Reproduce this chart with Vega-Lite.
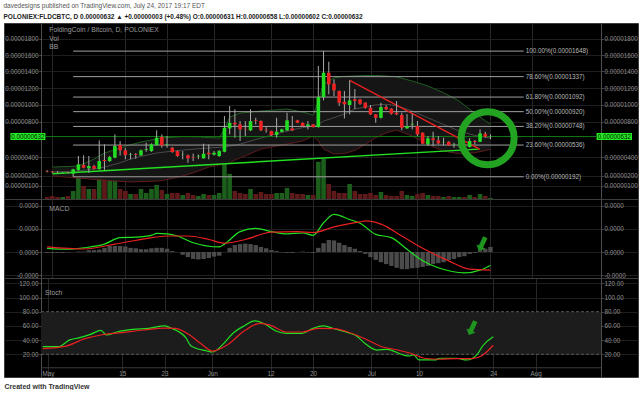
{
  "$schema": "https://vega.github.io/schema/vega-lite/v6.json",
  "background": "#ffffff",
  "padding": {"left": 3, "right": 3, "top": 3, "bottom": 0},
  "spacing": 0,
  "bounds": "flush",
  "title": {
    "text": "davedesigns published on TradingView.com, July 24, 2017 19:17 EDT",
    "subtitle": "POLONIEX:FLDCBTC, D 0.00000632 ▲ +0.00000003 (+0.48%) O:0.00000631 H:0.00000658 L:0.00000602 C:0.00000632",
    "anchor": "start", "frame": "bounds", "font": "Liberation Sans", "fontSize": 6.5, "fontWeight": "normal", "color": "#555555",
    "subtitleFont": "Liberation Sans", "subtitleFontSize": 6.5, "subtitleFontWeight": "bold", "subtitleColor": "#222222",
    "subtitlePadding": 4.5, "offset": 2
  },
  "datasets": {
    "ohlc": [
      {"t":"2017-04-30","o":250e-8,"h":262e-8,"l":238e-8,"c":245e-8,"v":2},
      {"t":"2017-05-01","o":246e-8,"h":252e-8,"l":232e-8,"c":238e-8,"v":3},
      {"t":"2017-05-02","o":238e-8,"h":250e-8,"l":228e-8,"c":236e-8,"v":2},
      {"t":"2017-05-03","o":234e-8,"h":240e-8,"l":226e-8,"c":236e-8,"v":2},
      {"t":"2017-05-04","o":236e-8,"h":242e-8,"l":226e-8,"c":233e-8,"v":3},
      {"t":"2017-05-05","o":224e-8,"h":275e-8,"l":192e-8,"c":270e-8,"v":8},
      {"t":"2017-05-06","o":262e-8,"h":414e-8,"l":255e-8,"c":323e-8,"v":22},
      {"t":"2017-05-07","o":316e-8,"h":422e-8,"l":280e-8,"c":287e-8,"v":13},
      {"t":"2017-05-08","o":281e-8,"h":414e-8,"l":234e-8,"c":305e-8,"v":10},
      {"t":"2017-05-09","o":305e-8,"h":318e-8,"l":268e-8,"c":276e-8,"v":10},
      {"t":"2017-05-10","o":272e-8,"h":589e-8,"l":265e-8,"c":359e-8,"v":30},
      {"t":"2017-05-11","o":370e-8,"h":544e-8,"l":260e-8,"c":359e-8,"v":30},
      {"t":"2017-05-12","o":359e-8,"h":415e-8,"l":350e-8,"c":403e-8,"v":18},
      {"t":"2017-05-13","o":396e-8,"h":657e-8,"l":390e-8,"c":525e-8,"v":23},
      {"t":"2017-05-14","o":536e-8,"h":581e-8,"l":420e-8,"c":477e-8,"v":10},
      {"t":"2017-05-15","o":477e-8,"h":506e-8,"l":378e-8,"c":425e-8,"v":8},
      {"t":"2017-05-16","o":428e-8,"h":450e-8,"l":378e-8,"c":433e-8,"v":5},
      {"t":"2017-05-17","o":436e-8,"h":445e-8,"l":385e-8,"c":428e-8,"v":5},
      {"t":"2017-05-18","o":422e-8,"h":485e-8,"l":415e-8,"c":477e-8,"v":10},
      {"t":"2017-05-19","o":482e-8,"h":562e-8,"l":461e-8,"c":490e-8,"v":6},
      {"t":"2017-05-20","o":469e-8,"h":555e-8,"l":460e-8,"c":544e-8,"v":10},
      {"t":"2017-05-21","o":536e-8,"h":703e-8,"l":530e-8,"c":619e-8,"v":14},
      {"t":"2017-05-22","o":627e-8,"h":657e-8,"l":506e-8,"c":533e-8,"v":9},
      {"t":"2017-05-23","o":540e-8,"h":638e-8,"l":506e-8,"c":546e-8,"v":5},
      {"t":"2017-05-24","o":506e-8,"h":515e-8,"l":450e-8,"c":458e-8,"v":6},
      {"t":"2017-05-25","o":469e-8,"h":475e-8,"l":405e-8,"c":414e-8,"v":6},
      {"t":"2017-05-26","o":433e-8,"h":469e-8,"l":378e-8,"c":436e-8,"v":4},
      {"t":"2017-05-27","o":422e-8,"h":430e-8,"l":341e-8,"c":389e-8,"v":6},
      {"t":"2017-05-28","o":400e-8,"h":441e-8,"l":359e-8,"c":393e-8,"v":4},
      {"t":"2017-05-29","o":410e-8,"h":430e-8,"l":380e-8,"c":416e-8,"v":3},
      {"t":"2017-05-30","o":389e-8,"h":551e-8,"l":385e-8,"c":439e-8,"v":5},
      {"t":"2017-05-31","o":450e-8,"h":544e-8,"l":378e-8,"c":433e-8,"v":4},
      {"t":"2017-06-01","o":430e-8,"h":470e-8,"l":420e-8,"c":450e-8,"v":4},
      {"t":"2017-06-02","o":414e-8,"h":480e-8,"l":405e-8,"c":469e-8,"v":6},
      {"t":"2017-06-03","o":461e-8,"h":868e-8,"l":455e-8,"c":732e-8,"v":41},
      {"t":"2017-06-04","o":725e-8,"h":986e-8,"l":657e-8,"c":790e-8,"v":25},
      {"t":"2017-06-05","o":790e-8,"h":947e-8,"l":619e-8,"c":771e-8,"v":8},
      {"t":"2017-06-06","o":771e-8,"h":810e-8,"l":581e-8,"c":714e-8,"v":6},
      {"t":"2017-06-07","o":720e-8,"h":810e-8,"l":638e-8,"c":714e-8,"v":5},
      {"t":"2017-06-08","o":703e-8,"h":947e-8,"l":695e-8,"c":810e-8,"v":10},
      {"t":"2017-06-09","o":818e-8,"h":848e-8,"l":771e-8,"c":810e-8,"v":5},
      {"t":"2017-06-10","o":810e-8,"h":818e-8,"l":695e-8,"c":703e-8,"v":7},
      {"t":"2017-06-11","o":710e-8,"h":740e-8,"l":676e-8,"c":703e-8,"v":5},
      {"t":"2017-06-12","o":695e-8,"h":700e-8,"l":640e-8,"c":649e-8,"v":5},
      {"t":"2017-06-13","o":649e-8,"h":848e-8,"l":619e-8,"c":687e-8,"v":6},
      {"t":"2017-06-14","o":687e-8,"h":722e-8,"l":680e-8,"c":714e-8,"v":6},
      {"t":"2017-06-15","o":703e-8,"h":907e-8,"l":695e-8,"c":818e-8,"v":11},
      {"t":"2017-06-16","o":726e-8,"h":868e-8,"l":695e-8,"c":703e-8,"v":6},
      {"t":"2017-06-17","o":818e-8,"h":825e-8,"l":785e-8,"c":790e-8,"v":5},
      {"t":"2017-06-18","o":790e-8,"h":795e-8,"l":745e-8,"c":752e-8,"v":5},
      {"t":"2017-06-19","o":752e-8,"h":810e-8,"l":714e-8,"c":771e-8,"v":4},
      {"t":"2017-06-20","o":771e-8,"h":775e-8,"l":735e-8,"c":740e-8,"v":4},
      {"t":"2017-06-21","o":740e-8,"h":1466e-8,"l":735e-8,"c":1092e-8,"v":37},
      {"t":"2017-06-22","o":1092e-8,"h":1648e-8,"l":1053e-8,"c":1385e-8,"v":40},
      {"t":"2017-06-23","o":1385e-8,"h":1518e-8,"l":1125e-8,"c":1244e-8,"v":15},
      {"t":"2017-06-24","o":1252e-8,"h":1305e-8,"l":1104e-8,"c":1172e-8,"v":8},
      {"t":"2017-06-25","o":1164e-8,"h":1170e-8,"l":986e-8,"c":1025e-8,"v":6},
      {"t":"2017-06-26","o":1037e-8,"h":1164e-8,"l":841e-8,"c":1006e-8,"v":6},
      {"t":"2017-06-27","o":998e-8,"h":1292e-8,"l":888e-8,"c":1053e-8,"v":15},
      {"t":"2017-06-28","o":1065e-8,"h":1188e-8,"l":951e-8,"c":1045e-8,"v":8},
      {"t":"2017-06-29","o":1065e-8,"h":1070e-8,"l":1000e-8,"c":1013e-8,"v":5},
      {"t":"2017-06-30","o":1025e-8,"h":1030e-8,"l":955e-8,"c":966e-8,"v":5},
      {"t":"2017-07-01","o":966e-8,"h":998e-8,"l":880e-8,"c":888e-8,"v":6},
      {"t":"2017-07-02","o":888e-8,"h":892e-8,"l":790e-8,"c":848e-8,"v":4},
      {"t":"2017-07-03","o":848e-8,"h":1025e-8,"l":840e-8,"c":974e-8,"v":7},
      {"t":"2017-07-04","o":974e-8,"h":998e-8,"l":940e-8,"c":947e-8,"v":4},
      {"t":"2017-07-05","o":955e-8,"h":960e-8,"l":885e-8,"c":895e-8,"v":3},
      {"t":"2017-07-06","o":907e-8,"h":1045e-8,"l":880e-8,"c":888e-8,"v":3},
      {"t":"2017-07-07","o":880e-8,"h":907e-8,"l":703e-8,"c":733e-8,"v":8},
      {"t":"2017-07-08","o":726e-8,"h":892e-8,"l":720e-8,"c":752e-8,"v":4},
      {"t":"2017-07-09","o":770e-8,"h":895e-8,"l":714e-8,"c":778e-8,"v":3},
      {"t":"2017-07-10","o":752e-8,"h":810e-8,"l":638e-8,"c":657e-8,"v":5},
      {"t":"2017-07-11","o":676e-8,"h":680e-8,"l":545e-8,"c":551e-8,"v":6},
      {"t":"2017-07-12","o":544e-8,"h":638e-8,"l":525e-8,"c":612e-8,"v":4},
      {"t":"2017-07-13","o":612e-8,"h":687e-8,"l":525e-8,"c":592e-8,"v":3},
      {"t":"2017-07-14","o":589e-8,"h":638e-8,"l":544e-8,"c":555e-8,"v":3},
      {"t":"2017-07-15","o":568e-8,"h":619e-8,"l":533e-8,"c":572e-8,"v":2},
      {"t":"2017-07-16","o":573e-8,"h":580e-8,"l":528e-8,"c":533e-8,"v":3},
      {"t":"2017-07-17","o":542e-8,"h":562e-8,"l":506e-8,"c":546e-8,"v":2},
      {"t":"2017-07-18","o":534e-8,"h":562e-8,"l":506e-8,"c":538e-8,"v":2},
      {"t":"2017-07-19","o":544e-8,"h":550e-8,"l":515e-8,"c":522e-8,"v":2},
      {"t":"2017-07-20","o":514e-8,"h":612e-8,"l":508e-8,"c":581e-8,"v":4},
      {"t":"2017-07-21","o":581e-8,"h":592e-8,"l":544e-8,"c":570e-8,"v":2},
      {"t":"2017-07-22","o":573e-8,"h":714e-8,"l":568e-8,"c":668e-8,"v":5},
      {"t":"2017-07-23","o":664e-8,"h":687e-8,"l":619e-8,"c":630e-8,"v":3},
      {"t":"2017-07-24","o":631e-8,"h":658e-8,"l":602e-8,"c":632e-8,"v":1}
    ],
    "bb": [
      {"t":"2017-05-01","lo":200e-8,"mid":242e-8,"up":294e-8},
      {"t":"2017-05-06","lo":179e-8,"mid":252e-8,"up":305e-8},
      {"t":"2017-05-09","lo":165e-8,"mid":275e-8,"up":381e-8},
      {"t":"2017-05-11","lo":158e-8,"mid":294e-8,"up":447e-8},
      {"t":"2017-05-14","lo":145e-8,"mid":340e-8,"up":503e-8},
      {"t":"2017-05-16","lo":138e-8,"mid":381e-8,"up":540e-8},
      {"t":"2017-05-18","lo":142e-8,"mid":410e-8,"up":570e-8},
      {"t":"2017-05-21","lo":148e-8,"mid":447e-8,"up":605e-8},
      {"t":"2017-05-22","lo":152e-8,"mid":455e-8,"up":615e-8},
      {"t":"2017-05-26","lo":200e-8,"mid":480e-8,"up":633e-8},
      {"t":"2017-05-29","lo":252e-8,"mid":495e-8,"up":630e-8},
      {"t":"2017-05-31","lo":294e-8,"mid":503e-8,"up":620e-8},
      {"t":"2017-06-02","lo":316e-8,"mid":510e-8,"up":615e-8},
      {"t":"2017-06-03","lo":327e-8,"mid":514e-8,"up":718e-8},
      {"t":"2017-06-04","lo":340e-8,"mid":525e-8,"up":856e-8},
      {"t":"2017-06-05","lo":370e-8,"mid":535e-8,"up":880e-8},
      {"t":"2017-06-06","lo":392e-8,"mid":547e-8,"up":903e-8},
      {"t":"2017-06-10","lo":491e-8,"mid":615e-8,"up":927e-8},
      {"t":"2017-06-15","lo":547e-8,"mid":695e-8,"up":951e-8},
      {"t":"2017-06-18","lo":581e-8,"mid":735e-8,"up":915e-8},
      {"t":"2017-06-20","lo":638e-8,"mid":752e-8,"up":880e-8},
      {"t":"2017-06-21","lo":581e-8,"mid":770e-8,"up":1045e-8},
      {"t":"2017-06-22","lo":491e-8,"mid":810e-8,"up":1248e-8},
      {"t":"2017-06-24","lo":436e-8,"mid":850e-8,"up":1321e-8},
      {"t":"2017-06-26","lo":441e-8,"mid":892e-8,"up":1340e-8},
      {"t":"2017-06-28","lo":477e-8,"mid":951e-8,"up":1345e-8},
      {"t":"2017-06-30","lo":544e-8,"mid":975e-8,"up":1350e-8},
      {"t":"2017-07-02","lo":619e-8,"mid":1000e-8,"up":1351e-8},
      {"t":"2017-07-04","lo":676e-8,"mid":1006e-8,"up":1345e-8},
      {"t":"2017-07-06","lo":706e-8,"mid":990e-8,"up":1335e-8},
      {"t":"2017-07-08","lo":660e-8,"mid":950e-8,"up":1300e-8},
      {"t":"2017-07-09","lo":638e-8,"mid":927e-8,"up":1284e-8},
      {"t":"2017-07-12","lo":544e-8,"mid":848e-8,"up":1224e-8},
      {"t":"2017-07-15","lo":469e-8,"mid":771e-8,"up":1144e-8},
      {"t":"2017-07-18","lo":439e-8,"mid":695e-8,"up":1045e-8},
      {"t":"2017-07-21","lo":450e-8,"mid":645e-8,"up":900e-8},
      {"t":"2017-07-24","lo":488e-8,"mid":615e-8,"up":772e-8}
    ],
    "fib": [
      {"lvl":"100.00%","p":1648e-8,"lab":"100.00%(0.00001648)"},
      {"lvl":"78.60%","p":1337e-8,"lab":"78.60%(0.00001337)"},
      {"lvl":"61.80%","p":1092e-8,"lab":"61.80%(0.00001092)"},
      {"lvl":"50.00%","p":920e-8,"lab":"50.00%(0.00000920)"},
      {"lvl":"38.20%","p":748e-8,"lab":"38.20%(0.00000748)"},
      {"lvl":"23.60%","p":536e-8,"lab":"23.60%(0.00000536)"},
      {"lvl":"0.00%","p":192e-8,"lab":"0.00%(0.00000192)"}
    ],
    "trend": [
      {"name":"support","t":"2017-05-01T00:00:00Z","p":224e-8},
      {"name":"support","t":"2017-07-21T17:00:00Z","p":491e-8},
      {"name":"resist","t":"2017-06-27T00:00:00Z","p":1292e-8},
      {"name":"resist","t":"2017-07-22T00:00:00Z","p":488e-8}
    ],
    "macd": [
      {"t":"2017-04-30","line":"MACD","v":8e-8},{"t":"2017-05-04","line":"MACD","v":6e-8},{"t":"2017-05-07","line":"MACD","v":9e-8},
      {"t":"2017-05-11","line":"MACD","v":17e-8},{"t":"2017-05-14","line":"MACD","v":31e-8},{"t":"2017-05-17","line":"MACD","v":32e-8},
      {"t":"2017-05-20","line":"MACD","v":36e-8},{"t":"2017-05-21","line":"MACD","v":40e-8},{"t":"2017-05-23","line":"MACD","v":39e-8},
      {"t":"2017-05-25","line":"MACD","v":34.5e-8},{"t":"2017-05-28","line":"MACD","v":20e-8},{"t":"2017-06-02","line":"MACD","v":11e-8},
      {"t":"2017-06-03","line":"MACD","v":17e-8},{"t":"2017-06-06","line":"MACD","v":44e-8},{"t":"2017-06-09","line":"MACD","v":51e-8},
      {"t":"2017-06-12","line":"MACD","v":44e-8},{"t":"2017-06-15","line":"MACD","v":39e-8},{"t":"2017-06-18","line":"MACD","v":41e-8},
      {"t":"2017-06-20","line":"MACD","v":36e-8},{"t":"2017-06-22","line":"MACD","v":63e-8},{"t":"2017-06-24","line":"MACD","v":81e-8},
      {"t":"2017-06-27","line":"MACD","v":70e-8},{"t":"2017-06-29","line":"MACD","v":62e-8},{"t":"2017-07-02","line":"MACD","v":38e-8},
      {"t":"2017-07-05","line":"MACD","v":31e-8},{"t":"2017-07-08","line":"MACD","v":6e-8},{"t":"2017-07-11","line":"MACD","v":-19e-8},
      {"t":"2017-07-14","line":"MACD","v":-34e-8},{"t":"2017-07-19","line":"MACD","v":-45e-8},{"t":"2017-07-22","line":"MACD","v":-39e-8},
      {"t":"2017-07-24","line":"MACD","v":-29e-8},
      {"t":"2017-04-30","line":"Signal","v":11e-8},{"t":"2017-05-07","line":"Signal","v":6.5e-8},{"t":"2017-05-13","line":"Signal","v":17e-8},
      {"t":"2017-05-19","line":"Signal","v":29e-8},{"t":"2017-05-23","line":"Signal","v":34.5e-8},{"t":"2017-05-27","line":"Signal","v":34.5e-8},
      {"t":"2017-05-31","line":"Signal","v":27e-8},{"t":"2017-06-03","line":"Signal","v":19e-8},{"t":"2017-06-07","line":"Signal","v":27e-8},
      {"t":"2017-06-12","line":"Signal","v":43e-8},{"t":"2017-06-17","line":"Signal","v":44e-8},{"t":"2017-06-20","line":"Signal","v":42e-8},
      {"t":"2017-06-24","line":"Signal","v":54e-8},{"t":"2017-06-29","line":"Signal","v":65e-8},{"t":"2017-06-30","line":"Signal","v":67e-8},
      {"t":"2017-07-03","line":"Signal","v":60e-8},{"t":"2017-07-07","line":"Signal","v":34.5e-8},{"t":"2017-07-11","line":"Signal","v":8e-8},
      {"t":"2017-07-16","line":"Signal","v":-19e-8},{"t":"2017-07-20","line":"Signal","v":-37e-8},{"t":"2017-07-24","line":"Signal","v":-39e-8}
    ],
    "hist": [
      {"t":"2017-04-30","h":-2e-8},{"t":"2017-05-01","h":-2e-8},{"t":"2017-05-02","h":-2e-8},{"t":"2017-05-03","h":-2e-8},
      {"t":"2017-05-04","h":-1e-8},{"t":"2017-05-05","h":0},{"t":"2017-05-06","h":1e-8},{"t":"2017-05-07","h":1e-8},
      {"t":"2017-05-08","h":4e-8},{"t":"2017-05-09","h":4e-8},{"t":"2017-05-10","h":5e-8},{"t":"2017-05-11","h":9e-8},
      {"t":"2017-05-12","h":13e-8},{"t":"2017-05-13","h":13e-8},{"t":"2017-05-14","h":13e-8},{"t":"2017-05-15","h":12e-8},
      {"t":"2017-05-16","h":9e-8},{"t":"2017-05-17","h":8e-8},{"t":"2017-05-18","h":6e-8},{"t":"2017-05-19","h":6e-8},
      {"t":"2017-05-20","h":8e-8},{"t":"2017-05-21","h":9e-8},{"t":"2017-05-22","h":9e-8},{"t":"2017-05-23","h":7e-8},
      {"t":"2017-05-24","h":2e-8},{"t":"2017-05-25","h":0},{"t":"2017-05-26","h":-6e-8},{"t":"2017-05-27","h":-11e-8},
      {"t":"2017-05-28","h":-15e-8},{"t":"2017-05-29","h":-16e-8},{"t":"2017-05-30","h":-15e-8},{"t":"2017-05-31","h":-13e-8},
      {"t":"2017-06-01","h":-10e-8},{"t":"2017-06-02","h":-8e-8},{"t":"2017-06-03","h":0},{"t":"2017-06-04","h":9e-8},
      {"t":"2017-06-05","h":15e-8},{"t":"2017-06-06","h":17e-8},{"t":"2017-06-07","h":18e-8},{"t":"2017-06-08","h":17e-8},
      {"t":"2017-06-09","h":15e-8},{"t":"2017-06-10","h":11e-8},{"t":"2017-06-11","h":8e-8},{"t":"2017-06-12","h":4e-8},
      {"t":"2017-06-13","h":2e-8},{"t":"2017-06-14","h":-1e-8},{"t":"2017-06-15","h":-2e-8},{"t":"2017-06-16","h":-2e-8},
      {"t":"2017-06-17","h":0},{"t":"2017-06-18","h":1e-8},{"t":"2017-06-19","h":-1e-8},{"t":"2017-06-20","h":-2e-8},
      {"t":"2017-06-21","h":9e-8},{"t":"2017-06-22","h":19e-8},{"t":"2017-06-23","h":26e-8},{"t":"2017-06-24","h":25e-8},
      {"t":"2017-06-25","h":20e-8},{"t":"2017-06-26","h":15e-8},{"t":"2017-06-27","h":11e-8},{"t":"2017-06-28","h":7e-8},
      {"t":"2017-06-29","h":2e-8},{"t":"2017-06-30","h":-4e-8},{"t":"2017-07-01","h":-11e-8},{"t":"2017-07-02","h":-17e-8},
      {"t":"2017-07-03","h":-22e-8},{"t":"2017-07-04","h":-26e-8},{"t":"2017-07-05","h":-30e-8},{"t":"2017-07-06","h":-34e-8},
      {"t":"2017-07-07","h":-37e-8},{"t":"2017-07-08","h":-37e-8},{"t":"2017-07-09","h":-35e-8},{"t":"2017-07-10","h":-34e-8},
      {"t":"2017-07-11","h":-32e-8},{"t":"2017-07-12","h":-30e-8},{"t":"2017-07-13","h":-26e-8},{"t":"2017-07-14","h":-24e-8},
      {"t":"2017-07-15","h":-22e-8},{"t":"2017-07-16","h":-17e-8},{"t":"2017-07-17","h":-15e-8},{"t":"2017-07-18","h":-11e-8},
      {"t":"2017-07-19","h":-9e-8},{"t":"2017-07-20","h":-4e-8},{"t":"2017-07-21","h":-2e-8},{"t":"2017-07-22","h":4e-8},
      {"t":"2017-07-23","h":7e-8},{"t":"2017-07-24","h":11e-8}
    ],
    "stoch": [
      {"t":"2017-04-30","line":"%K","v":30.7},{"t":"2017-05-03","line":"%K","v":30.7},{"t":"2017-05-05","line":"%K","v":40},
      {"t":"2017-05-07","line":"%K","v":43.4},{"t":"2017-05-09","line":"%K","v":48},{"t":"2017-05-11","line":"%K","v":53.8},
      {"t":"2017-05-12","line":"%K","v":47.2},{"t":"2017-05-14","line":"%K","v":51.4},{"t":"2017-05-17","line":"%K","v":55},
      {"t":"2017-05-20","line":"%K","v":56.6},{"t":"2017-05-23","line":"%K","v":60},{"t":"2017-05-24","line":"%K","v":57.5},
      {"t":"2017-05-27","line":"%K","v":43.4},{"t":"2017-05-28","line":"%K","v":31.7},{"t":"2017-05-31","line":"%K","v":24.6},
      {"t":"2017-06-01","line":"%K","v":23.2},{"t":"2017-06-03","line":"%K","v":34},{"t":"2017-06-05","line":"%K","v":50.4},
      {"t":"2017-06-07","line":"%K","v":60},{"t":"2017-06-09","line":"%K","v":67},{"t":"2017-06-11","line":"%K","v":62.3},
      {"t":"2017-06-13","line":"%K","v":52.8},{"t":"2017-06-15","line":"%K","v":49.6},{"t":"2017-06-18","line":"%K","v":49.6},
      {"t":"2017-06-20","line":"%K","v":56.6},{"t":"2017-06-22","line":"%K","v":60},{"t":"2017-06-24","line":"%K","v":56},
      {"t":"2017-06-27","line":"%K","v":49.6},{"t":"2017-06-28","line":"%K","v":46.8},{"t":"2017-06-30","line":"%K","v":34},
      {"t":"2017-07-02","line":"%K","v":26},{"t":"2017-07-04","line":"%K","v":27},{"t":"2017-07-07","line":"%K","v":19},
      {"t":"2017-07-08","line":"%K","v":17.6},{"t":"2017-07-09","line":"%K","v":19},{"t":"2017-07-10","line":"%K","v":12},
      {"t":"2017-07-13","line":"%K","v":12},{"t":"2017-07-14","line":"%K","v":14.4},{"t":"2017-07-17","line":"%K","v":14.4},
      {"t":"2017-07-19","line":"%K","v":12},{"t":"2017-07-21","line":"%K","v":20},{"t":"2017-07-22","line":"%K","v":31.7},
      {"t":"2017-07-24","line":"%K","v":44.8},
      {"t":"2017-04-30","line":"%D","v":27.9},{"t":"2017-05-04","line":"%D","v":30.7},{"t":"2017-05-08","line":"%D","v":42},
      {"t":"2017-05-11","line":"%D","v":47.2},{"t":"2017-05-15","line":"%D","v":50.4},{"t":"2017-05-19","line":"%D","v":54.2},
      {"t":"2017-05-23","line":"%D","v":57},{"t":"2017-05-25","line":"%D","v":56.6},{"t":"2017-05-28","line":"%D","v":45.8},
      {"t":"2017-05-30","line":"%D","v":34.1},{"t":"2017-06-01","line":"%D","v":24.6},{"t":"2017-06-04","line":"%D","v":34.1},
      {"t":"2017-06-07","line":"%D","v":52.8},{"t":"2017-06-10","line":"%D","v":63.7},{"t":"2017-06-12","line":"%D","v":60.8},
      {"t":"2017-06-15","line":"%D","v":51.4},{"t":"2017-06-18","line":"%D","v":51.4},{"t":"2017-06-21","line":"%D","v":56.6},
      {"t":"2017-06-24","line":"%D","v":56.1},{"t":"2017-06-27","line":"%D","v":50.4},{"t":"2017-06-30","line":"%D","v":41.1},
      {"t":"2017-07-03","line":"%D","v":30.7},{"t":"2017-07-06","line":"%D","v":26.1},{"t":"2017-07-09","line":"%D","v":20},
      {"t":"2017-07-11","line":"%D","v":14.4},{"t":"2017-07-14","line":"%D","v":13},{"t":"2017-07-17","line":"%D","v":13.8},
      {"t":"2017-07-20","line":"%D","v":13.8},{"t":"2017-07-22","line":"%D","v":18.6},{"t":"2017-07-24","line":"%D","v":32.7}
    ]
  },
  "vconcat": [
    {
      "width": 634, "height": 176,
      "layer": [
        {
          "data": {"name": "ohlc"},
          "mark": {"type": "bar", "size": 4.6},
          "encoding": {
            "x": {"field": "t", "type": "temporal", "title": null, "scale": {"domain": [{"year":2017,"month":4,"date":22,"hours":16,"minutes":48,"utc":true},{"year":2017,"month":8,"date":20,"hours":7,"minutes":41,"utc":true}], "nice": false},
              "axis": {"values": [{"year":2017,"month":5,"date":1,"utc":true},{"year":2017,"month":5,"date":15,"utc":true},{"year":2017,"month":5,"date":23,"utc":true},{"year":2017,"month":6,"date":1,"utc":true},{"year":2017,"month":6,"date":12,"utc":true},{"year":2017,"month":6,"date":20,"utc":true},{"year":2017,"month":7,"date":1,"utc":true},{"year":2017,"month":7,"date":10,"utc":true},{"year":2017,"month":7,"date":24,"utc":true},{"year":2017,"month":8,"date":1,"utc":true}], "grid": true, "gridColor": "#282828", "labels": false, "ticks": false, "domain": false, "title": null}},
            "y": {"field": "v", "type": "quantitative", "scale": {"domain": [0, 175], "nice": false}, "axis": null},
            "color": {"condition": {"test": "datum.c >= datum.o", "value": "#1c5e1c"}, "value": "#5e1a1a"}
          }
        },
        {
          "data": {"values": [{"p": 632e-8}]},
          "mark": {"type": "rect", "color": "#22ee22"},
          "encoding": {
            "x": {"datum": {"year":2017,"month":4,"date":22,"hours":23,"minutes":30,"utc":true}, "type": "temporal", "title": null},
            "x2": {"datum": {"year":2017,"month":4,"date":29,"hours":16,"minutes":19,"utc":true}},
            "y": {"datum": 673e-8, "type": "quantitative", "scale": {"type": "pow", "exponent": 0.92, "domain": [-16e-8, 1996e-8], "nice": false, "zero": false},
              "axis": {"orient": "left", "offset": -37, "values": [100e-8, 200e-8, 400e-8, 800e-8, 1000e-8, 1200e-8, 1400e-8, 1600e-8, 1800e-8], "format": ".8f", "grid": true, "labelOverlap": false, "title": null}},
            "y2": {"datum": 593e-8}
          }
        },
        {
          "data": {"values": [{"p": 632e-8}]},
          "mark": {"type": "rect", "color": "#22ee22"},
          "encoding": {
            "x": {"datum": {"year":2017,"month":8,"date":13,"hours":8,"minutes":10,"utc":true}, "type": "temporal", "title": null},
            "x2": {"datum": {"year":2017,"month":8,"date":20,"hours":3,"minutes":7,"utc":true}},
            "y": {"datum": 673e-8, "type": "quantitative", "scale": {"type": "pow", "exponent": 0.92, "domain": [-16e-8, 1996e-8], "nice": false, "zero": false},
              "axis": {"orient": "right", "offset": -37, "values": [100e-8, 200e-8, 400e-8, 800e-8, 1000e-8, 1200e-8, 1400e-8, 1600e-8, 1800e-8], "format": ".8f", "grid": false, "labelOverlap": false, "title": null}},
            "y2": {"datum": 593e-8}
          }
        },
        {
          "layer": [
            {
              "data": {"name": "bb"},
              "mark": {"type": "area", "color": "#151515"},
              "encoding": {
                "x": {"field": "t", "type": "temporal", "title": null},
                "y": {"field": "lo", "type": "quantitative", "scale": {"type": "pow", "exponent": 0.92, "domain": [-16e-8, 1996e-8], "nice": false, "zero": false}, "axis": null},
                "y2": {"field": "up"}
              }
            },
            {"data": {"name": "bb"}, "mark": {"type": "line", "color": "#1f5c1f", "strokeWidth": 1}, "encoding": {"x": {"field": "t", "type": "temporal", "title": null}, "y": {"field": "up", "type": "quantitative", "axis": null}}},
            {"data": {"name": "bb"}, "mark": {"type": "line", "color": "#4a4a4a", "strokeWidth": 1}, "encoding": {"x": {"field": "t", "type": "temporal", "title": null}, "y": {"field": "mid", "type": "quantitative", "axis": null}}},
            {"data": {"name": "bb"}, "mark": {"type": "line", "color": "#5e1c1c", "strokeWidth": 1}, "encoding": {"x": {"field": "t", "type": "temporal", "title": null}, "y": {"field": "lo", "type": "quantitative", "axis": null}}},
            {
              "data": {"name": "fib"},
              "mark": {"type": "rule", "color": "#a0a0a0", "strokeWidth": 1},
              "encoding": {
                "x": {"datum": {"year":2017,"month":5,"date":5,"utc":true}, "type": "temporal", "title": null},
                "x2": {"datum": {"year":2017,"month":7,"date":30,"hours":9,"utc":true}},
                "y": {"field": "p", "type": "quantitative", "axis": null}
              }
            },
            {
              "data": {"name": "fib"},
              "mark": {"type": "text", "align": "left", "baseline": "middle", "fontSize": 6.3, "color": "#b8b8b8"},
              "encoding": {
                "x": {"datum": {"year":2017,"month":7,"date":30,"hours":18,"utc":true}, "type": "temporal", "title": null},
                "y": {"field": "p", "type": "quantitative", "axis": null},
                "text": {"field": "lab"}
              }
            },
            {
              "data": {"values": [{"p": 632e-8}]},
              "mark": {"type": "rule", "color": "#157a15", "strokeWidth": 1},
              "encoding": {
                "x": {"datum": {"year":2017,"month":4,"date":29,"hours":16,"minutes":19,"utc":true}, "type": "temporal", "title": null},
                "x2": {"datum": {"year":2017,"month":8,"date":13,"hours":8,"minutes":10,"utc":true}},
                "y": {"field": "p", "type": "quantitative", "axis": null}
              }
            },
            {
              "data": {"name": "trend"},
              "mark": {"type": "line", "strokeWidth": 1.4},
              "encoding": {
                "x": {"field": "t", "type": "temporal", "title": null},
                "y": {"field": "p", "type": "quantitative", "axis": null},
                "color": {"field": "name", "type": "nominal", "scale": {"domain": ["support", "resist"], "range": ["#22e022", "#e82020"]}, "legend": null}
              }
            },
            {
              "data": {"name": "ohlc"},
              "mark": {"type": "rule", "color": "#a9a9a9", "strokeWidth": 1},
              "encoding": {"x": {"field": "t", "type": "temporal", "title": null}, "y": {"field": "l", "type": "quantitative", "axis": null}, "y2": {"field": "h"}}
            },
            {
              "data": {"name": "ohlc"},
              "mark": {"type": "bar", "size": 3.6},
              "encoding": {
                "x": {"field": "t", "type": "temporal", "title": null},
                "y": {"field": "o", "type": "quantitative", "axis": null}, "y2": {"field": "c"},
                "color": {"condition": {"test": "datum.c >= datum.o", "value": "#22dd22"}, "value": "#ee2222"}
              }
            },
            {
              "data": {"values": [{"t": "2017-07-23T11:00:00Z", "p": 612e-8}]},
              "mark": {"type": "point", "shape": "circle", "size": 2809, "filled": false, "stroke": "#22a322", "strokeWidth": 7, "opacity": 1},
              "encoding": {"x": {"field": "t", "type": "temporal", "title": null}, "y": {"field": "p", "type": "quantitative", "axis": null}}
            },
            {
              "data": {"values": [{"p": 632e-8}]},
              "mark": {"type": "text", "fontSize": 6.3, "color": "#0a0a0a", "align": "center", "baseline": "middle"},
              "encoding": {
                "x": {"datum": {"year":2017,"month":4,"date":26,"hours":8,"minutes":10,"utc":true}, "type": "temporal", "title": null},
                "y": {"field": "p", "type": "quantitative", "axis": null},
                "text": {"field": "p", "format": ".8f"}
              }
            },
            {
              "data": {"values": [{"p": 632e-8}]},
              "mark": {"type": "text", "fontSize": 6.3, "color": "#0a0a0a", "align": "center", "baseline": "middle"},
              "encoding": {
                "x": {"datum": {"year":2017,"month":8,"date":16,"hours":17,"minutes":46,"utc":true}, "type": "temporal", "title": null},
                "y": {"field": "p", "type": "quantitative", "axis": null},
                "text": {"field": "p", "format": ".8f"}
              }
            },
            {
              "data": {"values": [{}]},
              "mark": {"type": "text", "align": "left", "baseline": "top", "fontSize": 6.8, "lineHeight": 8.5, "color": "#9c9c9c"},
              "encoding": {
                "x": {"datum": {"year":2017,"month":4,"date":30,"hours":10,"minutes":20,"utc":true}, "type": "temporal", "title": null},
                "y": {"datum": 1940e-8, "type": "quantitative", "axis": null},
                "text": {"value": ["FoldingCoin / Bitcoin, D, POLONIEX", "Vol", "BB"]}
              }
            }
          ]
        }
      ],
      "resolve": {"scale": {"y": "independent"}}
    },
    {
      "width": 634, "height": 79,
      "layer": [
        {
          "data": {"name": "hist"},
          "mark": {"type": "bar", "size": 4.4, "color": "#4b4b4b"},
          "encoding": {
            "x": {"field": "t", "type": "temporal", "title": null, "scale": {"domain": [{"year":2017,"month":4,"date":22,"hours":16,"minutes":48,"utc":true},{"year":2017,"month":8,"date":20,"hours":7,"minutes":41,"utc":true}], "nice": false},
              "axis": {"values": [{"year":2017,"month":5,"date":1,"utc":true},{"year":2017,"month":5,"date":15,"utc":true},{"year":2017,"month":5,"date":23,"utc":true},{"year":2017,"month":6,"date":1,"utc":true},{"year":2017,"month":6,"date":12,"utc":true},{"year":2017,"month":6,"date":20,"utc":true},{"year":2017,"month":7,"date":1,"utc":true},{"year":2017,"month":7,"date":10,"utc":true},{"year":2017,"month":7,"date":24,"utc":true},{"year":2017,"month":8,"date":1,"utc":true}], "grid": true, "gridColor": "#282828", "labels": false, "ticks": false, "domain": false, "title": null}},
            "y": {"field": "h", "type": "quantitative", "scale": {"domain": [-56e-8, 114.2e-8], "nice": false, "zero": false},
              "axis": {"orient": "left", "offset": -37, "values": [-50e-8, 0, 50e-8, 100e-8], "labelExpr": "datum.value < 0 ? '-0.0000' : '0.0000'", "grid": true, "labelOverlap": false, "title": null}}
          }
        },
        {
          "data": {"name": "macd"},
          "mark": {"type": "line", "strokeWidth": 1.2, "interpolate": "monotone"},
          "encoding": {
            "x": {"field": "t", "type": "temporal", "title": null},
            "y": {"field": "v", "type": "quantitative", "scale": {"domain": [-56e-8, 114.2e-8], "nice": false, "zero": false},
              "axis": {"orient": "right", "offset": -37, "values": [-50e-8, 0, 50e-8, 100e-8], "labelExpr": "datum.value < 0 ? '-0.0000' : '0.0000'", "grid": false, "labelOverlap": false, "title": null}},
            "color": {"field": "line", "type": "nominal", "scale": {"domain": ["MACD", "Signal"], "range": ["#1ed41e", "#e21c1c"]}, "legend": null}
          }
        },
        {
          "layer": [
            {
              "data": {"values": [{}]},
              "mark": {"type": "text", "align": "left", "baseline": "middle", "fontSize": 6.8, "color": "#9c9c9c", "text": "MACD"},
              "encoding": {
                "x": {"datum": {"year":2017,"month":4,"date":30,"hours":10,"minutes":20,"utc":true}, "type": "temporal", "title": null},
                "y": {"datum": 93e-8, "type": "quantitative", "scale": {"domain": [-56e-8, 114.2e-8], "nice": false, "zero": false}, "axis": null}
              }
            },
            {
              "data": {"values": [{}]},
              "mark": {"type": "text", "align": "center", "baseline": "middle", "fontSize": 20, "font": "DejaVu Sans", "color": "#1f951f", "text": "⬇", "angle": 25},
              "encoding": {
                "x": {"datum": {"year":2017,"month":7,"date":22,"hours":7,"utc":true}, "type": "temporal", "title": null},
                "y": {"datum": 15e-8, "type": "quantitative", "axis": null}
              }
            }
          ]
        }
      ],
      "resolve": {"scale": {"y": "independent"}}
    },
    {
      "width": 634, "height": 99,
      "layer": [
        {
          "data": {"values": [{}]},
          "mark": {"type": "rect", "color": "#1c1c1c"},
          "encoding": {
            "x": {"datum": {"year":2017,"month":4,"date":29,"hours":16,"minutes":19,"utc":true}, "type": "temporal", "title": null},
            "x2": {"datum": {"year":2017,"month":8,"date":13,"hours":8,"minutes":10,"utc":true}},
            "y": {"datum": 80, "type": "quantitative", "scale": {"domain": [-12, 127.5], "nice": false, "zero": false},
              "axis": {"orient": "left", "offset": -37, "values": [20, 40, 60, 80, 100, 120], "format": ".2f", "grid": true, "labelOverlap": false, "title": null}},
            "y2": {"datum": 20}
          }
        },
        {
          "data": {"values": [{"lv": 20}, {"lv": 80}]},
          "mark": {"type": "rule", "color": "#5a5a5a", "strokeDash": [3, 2], "strokeWidth": 1},
          "encoding": {
            "x": {"datum": {"year":2017,"month":4,"date":29,"hours":16,"minutes":19,"utc":true}, "type": "temporal", "title": null},
            "x2": {"datum": {"year":2017,"month":8,"date":13,"hours":8,"minutes":10,"utc":true}},
            "y": {"field": "lv", "type": "quantitative", "scale": {"domain": [-12, 127.5], "nice": false, "zero": false},
              "axis": {"orient": "right", "offset": -37, "values": [20, 40, 60, 80, 100, 120], "format": ".2f", "grid": false, "labelOverlap": false, "title": null}}
          }
        },
        {
          "layer": [
            {
              "data": {"name": "stoch"},
              "mark": {"type": "line", "strokeWidth": 1.2, "interpolate": "monotone"},
              "encoding": {
                "x": {"field": "t", "type": "temporal", "title": null, "scale": {"domain": [{"year":2017,"month":4,"date":22,"hours":16,"minutes":48,"utc":true},{"year":2017,"month":8,"date":20,"hours":7,"minutes":41,"utc":true}], "nice": false},
                  "axis": {"values": [{"year":2017,"month":5,"date":1,"utc":true},{"year":2017,"month":5,"date":15,"utc":true},{"year":2017,"month":5,"date":23,"utc":true},{"year":2017,"month":6,"date":1,"utc":true},{"year":2017,"month":6,"date":12,"utc":true},{"year":2017,"month":6,"date":20,"utc":true},{"year":2017,"month":7,"date":1,"utc":true},{"year":2017,"month":7,"date":10,"utc":true},{"year":2017,"month":7,"date":24,"utc":true},{"year":2017,"month":8,"date":1,"utc":true}],
                    "grid": true, "gridColor": "#282828", "orient": "bottom", "offset": -9, "ticks": false, "domain": false,
                    "labelExpr": "utcdate(datum.value) == 1 ? utcFormat(datum.value, '%b') : utcFormat(datum.value, '%-d')", "labelPadding": 2,
                    "title": "Created with TradingView", "titleAnchor": "start", "titleAlign": "left", "titleColor": "#333333", "titleFontSize": 7, "titleFontWeight": "bold", "titlePadding": 6}},
                "y": {"field": "v", "type": "quantitative", "scale": {"domain": [-12, 127.5], "nice": false, "zero": false}, "axis": null},
                "color": {"field": "line", "type": "nominal", "scale": {"domain": ["%K", "%D"], "range": ["#1ed41e", "#e21c1c"]}, "legend": null}
              }
            },
            {
              "data": {"values": [{"lv": 1}]},
              "mark": {"type": "rule", "color": "#3d3d3d", "strokeWidth": 1},
              "encoding": {
                "x": {"datum": {"year":2017,"month":4,"date":29,"hours":16,"minutes":19,"utc":true}, "type": "temporal", "title": null},
                "x2": {"datum": {"year":2017,"month":8,"date":13,"hours":8,"minutes":10,"utc":true}},
                "y": {"field": "lv", "type": "quantitative", "axis": null}
              }
            },
            {
              "data": {"values": [{}]},
              "mark": {"type": "text", "align": "left", "baseline": "middle", "fontSize": 6.8, "color": "#9c9c9c", "text": "Stoch"},
              "encoding": {
                "x": {"datum": {"year":2017,"month":4,"date":30,"hours":10,"minutes":20,"utc":true}, "type": "temporal", "title": null},
                "y": {"datum": 106.3, "type": "quantitative", "axis": null}
              }
            },
            {
              "data": {"values": [{}]},
              "mark": {"type": "text", "align": "center", "baseline": "middle", "fontSize": 20, "font": "DejaVu Sans", "color": "#1f951f", "text": "⬇", "angle": 25},
              "encoding": {
                "x": {"datum": {"year":2017,"month":7,"date":19,"hours":22,"utc":true}, "type": "temporal", "title": null},
                "y": {"datum": 55.6, "type": "quantitative", "axis": null}
              }
            }
          ]
        }
      ],
      "resolve": {"scale": {"y": "independent"}}
    }
  ],
  "config": {
    "view": {"fill": "#000000", "stroke": "#3d3d3d", "strokeWidth": 1},
    "axis": {"labelFont": "Liberation Sans", "labelFontSize": 6.3, "labelColor": "#8f8f8f", "tickColor": "#4d4d4d", "domainColor": "#4d4d4d", "gridColor": "#1e1e1e", "tickSize": 2, "labelPadding": 1, "labelOverlap": false, "labelFlush": false, "titleFont": "Liberation Sans"},
    "text": {"font": "Liberation Sans"},
    "concat": {"spacing": 0}
  }
}
